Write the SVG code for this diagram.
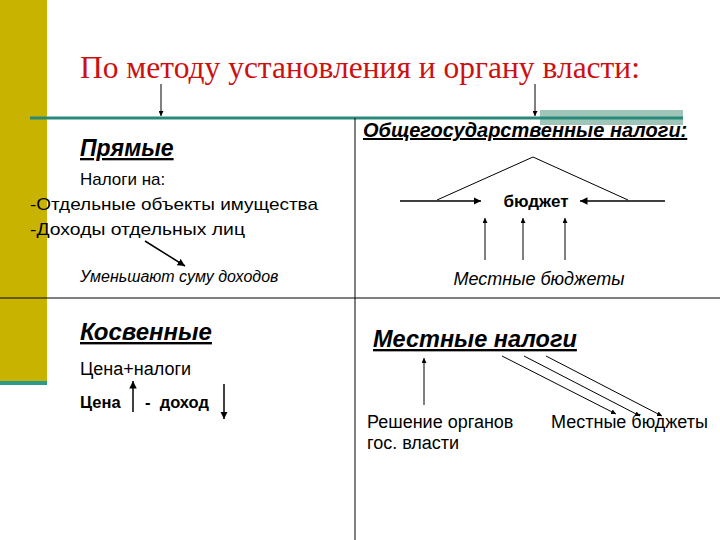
<svg xmlns="http://www.w3.org/2000/svg" width="720" height="540" viewBox="0 0 720 540">
<defs>
<marker id="a" viewBox="0 0 10 10" refX="10" refY="5" markerWidth="5" markerHeight="5" orient="auto"><path d="M0,0L10,5L0,10z" fill="#000"/></marker>
</defs>
<style>
.s{font-family:"Liberation Sans",Arial,sans-serif;fill:#000}
.h{font-weight:bold;font-style:italic;text-decoration:underline}
.l{stroke:#000;fill:none}
.ar{stroke:#000;fill:none;marker-end:url(#a)}
</style>
<rect width="720" height="540" fill="#fff"/>
<rect x="0" y="0" width="47" height="381" fill="#c8b400"/>
<rect x="0" y="381" width="47" height="4" fill="#2a9a8a"/>
<rect x="540" y="110" width="143" height="15" fill="#9fc4b8"/>
<line x1="30" y1="118" x2="683" y2="118" stroke="#2a8a7a" stroke-width="3"/>
<line x1="355" y1="118" x2="355" y2="540" stroke="#000"/>
<line x1="0" y1="298" x2="720" y2="298" stroke="#000"/>
<text x="80" y="78" font-family="'Liberation Serif','Times New Roman',serif" font-size="31.5" fill="#cc1111">По методу установления и органу власти:</text>
<g id="connectors">
<line class="ar" x1="161" y1="84" x2="161" y2="116"/>
<line class="ar" x1="535" y1="84" x2="535" y2="116"/>
<line class="ar" x1="145" y1="241" x2="185" y2="266" stroke-width="1.5"/>
<polyline class="l" points="437,200 533,157 628,200"/>
<line class="ar" x1="400" y1="201" x2="481" y2="201" stroke-width="1.5"/>
<line class="ar" x1="665" y1="201" x2="580" y2="201" stroke-width="1.5"/>
<line class="ar" x1="485" y1="260" x2="485" y2="218"/>
<line class="ar" x1="523" y1="260" x2="523" y2="218"/>
<line class="ar" x1="565" y1="260" x2="565" y2="218"/>
<line class="ar" x1="133" y1="412" x2="133" y2="381" stroke-width="1.5"/>
<line class="ar" x1="224" y1="384" x2="224" y2="419" stroke-width="1.5"/>
<line class="ar" x1="424" y1="405" x2="424" y2="358"/>
<line class="ar" x1="502" y1="356" x2="616" y2="414"/>
<line class="ar" x1="524" y1="356" x2="640" y2="416"/>
<line class="ar" x1="546" y1="356" x2="662" y2="416"/>
</g>
<g id="direct">
<text class="s h" x="80" y="156" font-size="23">Прямые</text>
<text class="s" x="80" y="185" font-size="17">Налоги на:</text>
<text class="s" x="30" y="210" font-size="17" textLength="288" lengthAdjust="spacingAndGlyphs">-Отдельные объекты имущества</text>
<text class="s" x="30" y="235" font-size="17" textLength="215" lengthAdjust="spacingAndGlyphs">-Доходы отдельных лиц</text>
<text class="s" x="80" y="282" font-size="16" font-style="italic">Уменьшают суму доходов</text>
</g>
<g id="national">
<text class="s h" x="363" y="137" font-size="20">Общегосударственные налоги:</text>
<text class="s" x="536" y="207" font-size="17" font-weight="bold" text-anchor="middle">бюджет</text>
<text class="s" x="539" y="285" font-size="18" font-style="italic" text-anchor="middle">Местные бюджеты</text>
</g>
<g id="indirect">
<text class="s h" x="80" y="340" font-size="24">Косвенные</text>
<text class="s" x="80" y="375" font-size="18">Цена+налоги</text>
<text class="s" x="80" y="408" font-size="16.5" font-weight="bold">Цена</text>
<text class="s" x="145" y="408" font-size="16.5" font-weight="bold" xml:space="preserve">-  доход</text>
</g>
<g id="local">
<text class="s h" x="373" y="347" font-size="23.5">Местные налоги</text>
<text class="s" x="367" y="428" font-size="18">Решение органов</text>
<text class="s" x="367" y="449" font-size="18">гос. власти</text>
<text class="s" x="551" y="428" font-size="18">Местные бюджеты</text>
</g>
</svg>
